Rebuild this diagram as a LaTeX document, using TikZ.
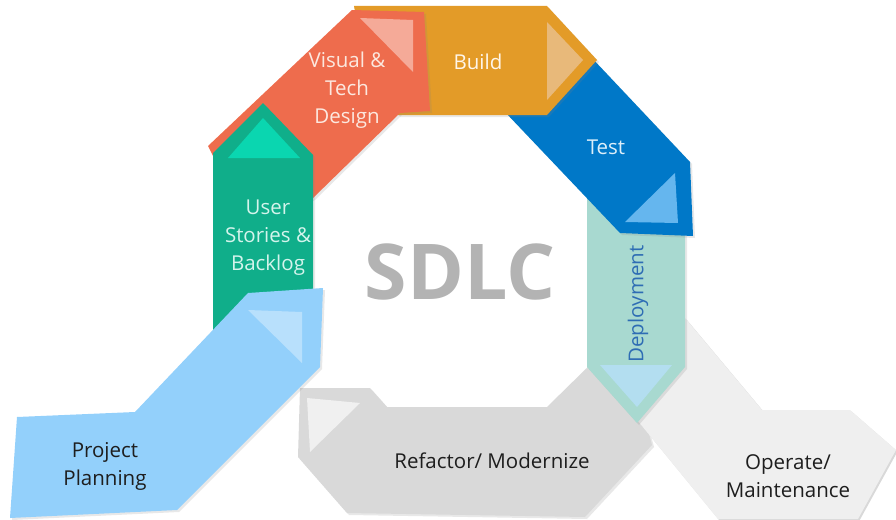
\documentclass[tikz,border=0pt]{standalone}
\usepackage{fontspec}
\setmainfont{Open Sans}
\usetikzlibrary{shadows}

\definecolor{designC}{HTML}{EE6C4D}
\definecolor{designT}{HTML}{F5AA98}
\definecolor{designTxt}{HTML}{FCE8DF}
\definecolor{buildC}{HTML}{E39B28}
\definecolor{buildT}{HTML}{E8B97A}
\definecolor{buildTxt}{HTML}{FFF6EA}
\definecolor{testC}{HTML}{0078C8}
\definecolor{testT}{HTML}{65B6EE}
\definecolor{testTxt}{HTML}{DDEFFA}
\definecolor{deployC}{HTML}{A8D9D0}
\definecolor{deployT}{HTML}{B3DEF0}
\definecolor{deployTxt}{HTML}{2E6DB4}
\definecolor{operateC}{HTML}{EFEFEF}
\definecolor{refactorC}{HTML}{D9D9D9}
\definecolor{refactorT}{HTML}{F0F0F0}
\definecolor{planC}{HTML}{93D0FB}
\definecolor{planT}{HTML}{B8E0FC}
\definecolor{storyC}{HTML}{10AE8A}
\definecolor{storyT}{HTML}{0AD6B0}
\definecolor{storyTxt}{HTML}{D4F4EC}
\definecolor{darkTxt}{HTML}{1E1E1E}
\definecolor{sdlcC}{HTML}{B3B3B3}

\tikzset{
  band/.style={drop shadow={opacity=0.18, shadow xshift=2pt, shadow yshift=-2pt}},
  paleband/.style={drop shadow={opacity=0.3, shadow xshift=1.5pt, shadow yshift=-1.5pt}},
  label/.style={align=center, inner sep=0pt, font=\fontsize{20.5}{28}\selectfont},
}

\begin{document}
\begin{tikzpicture}[x=1pt, y=-1pt]
\useasboundingbox (0,0) rectangle (896,519);

% Refactor / Modernize
\path[band, fill=refactorC]
  (300,388) -- (370,388) -- (387,407) -- (547,407) -- (600,355) -- (640,400)
  -- (652,445) -- (585,517) -- (347,513) -- (298,457) -- cycle;
\fill[refactorT] (307,398) -- (360,403) -- (310,452) -- cycle;

% Operate / Maintenance
\path[paleband, fill=operateC]
  (660,318) -- (685,318) -- (762,410) -- (850,410) -- (896,450) -- (858,519)
  -- (718,519) -- (637,420) -- cycle;

% Deployment
\path[band, fill=deployC]
  (587,196) -- (685,196) -- (685,367) -- (637,423) -- (587,367) -- cycle;
\fill[deployT] (600,365) -- (672,365) -- (637,407) -- cycle;

% Test
\path[band, fill=testC]
  (505,112) -- (590,56) -- (690,162) -- (693,236) -- (620,233) -- cycle;
\fill[testT] (625,222) -- (675,173) -- (678,223) -- cycle;

% Build
\path[band, fill=buildC]
  (354,6) -- (547,6) -- (597,60) -- (547,115) -- (398,115) -- (360,40) -- cycle;
\fill[buildT] (547,22) -- (583,60) -- (547,100) -- cycle;

% Visual & Tech Design
\path[band, fill=designC]
  (352,10) -- (424,12) -- (430,111) -- (400,113) -- (313,198) -- (260,230)
  -- (215,160) -- (208,146) -- cycle;
\fill[designT] (360,18) -- (413,20) -- (413,72) -- cycle;

% User Stories & Backlog
\path[band, fill=storyC]
  (263,103) -- (313,155) -- (313,320) -- (213,340) -- (213,153) -- cycle;
\fill[storyT] (228,158) -- (263,118) -- (300,158) -- cycle;

% Project Planning
\path[band, fill=planC]
  (17,417) -- (135,412) -- (248,293) -- (323,288) -- (320,367) -- (177,510)
  -- (10,518) -- cycle;
\fill[planT] (248,310) -- (302,312) -- (302,363) -- cycle;

% Labels
\node[label, text=designTxt] (design) at (347,90) {Visual \&\\Tech\\Design};
\node[label, text=buildTxt] (build) at (478,62) {Build};
\node[label, text=testTxt] (test) at (606,147) {Test};
\node[label, text=deployTxt, rotate=90] (deploy) at (638,304) {Deployment};
\node[label, text=darkTxt] (operate) at (788,476) {Operate/\\Maintenance};
\node[label, text=darkTxt] (refactor) at (492,461) {Refactor/ Modernize};
\node[label, text=darkTxt] (plan) at (105,466) {Project\\Planning};
\node[label, text=storyTxt] (story) at (268,238) {User\\Stories \&\\Backlog};

\node[inner sep=0pt, text=sdlcC, font=\fontsize{77}{80}\selectfont\bfseries] (sdlc) at (460,272) {SDLC};
\end{tikzpicture}
\end{document}
